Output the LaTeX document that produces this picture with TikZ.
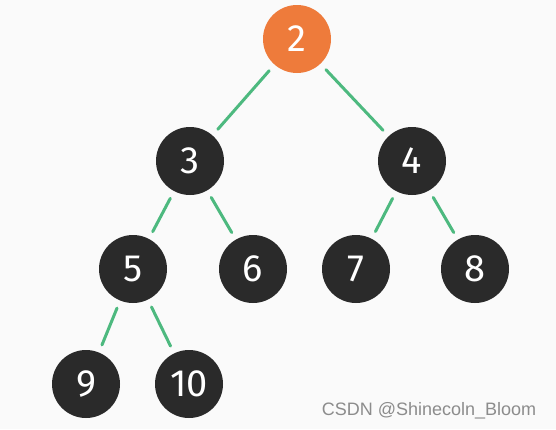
\documentclass[tikz,border=0pt]{standalone}
\usepackage{fontspec}
\setmainfont{Liberation Sans}
\newfontfamily\digitfont{Fira Sans}
\definecolor{bgc}{HTML}{FAFAFA}
\definecolor{edgec}{HTML}{4DB97F}
\definecolor{orangec}{HTML}{EE7B3B}
\definecolor{darkc}{HTML}{2A2A2A}
\definecolor{wmc}{HTML}{8C8C8C}
\begin{document}
\begin{tikzpicture}[x=1pt,y=-1pt,
  treenode/.style={circle,minimum size=68pt,inner sep=0pt,fill=darkc,text=white,font=\digitfont\fontsize{38}{40}\selectfont},
  rootnode/.style={treenode,fill=orangec},
  link/.style={draw=edgec,line width=3pt,line cap=round,shorten <=8pt,shorten >=8pt}]
\fill[bgc] (0,0) rectangle (556,429);
\useasboundingbox (0,0) rectangle (556,429);
\node[rootnode] (n2) at (297,39) {2};
\node[treenode] (n3) at (190,161) {3};
\node[treenode] (n4) at (412,161) {4};
\node[treenode] (n5) at (133,269) {5};
\node[treenode] (n6) at (253,269) {6};
\node[treenode] (n7) at (356,269) {7};
\node[treenode] (n8) at (475,269) {8};
\node[treenode] (n9) at (86,384) {9};
\node[treenode] (n10) at (189,384) {10};
\draw[link] (n2) -- (n3);
\draw[link] (n2) -- (n4);
\draw[link] (n3) -- (n5);
\draw[link] (n3) -- (n6);
\draw[link] (n4) -- (n7);
\draw[link] (n4) -- (n8);
\draw[link] (n5) -- (n9);
\draw[link] (n5) -- (n10);
\node[text=wmc,font=\fontsize{18}{20}\selectfont] (wm) at (429,411) {CSDN @Shinecoln\_Bloom};
\end{tikzpicture}
\end{document}
